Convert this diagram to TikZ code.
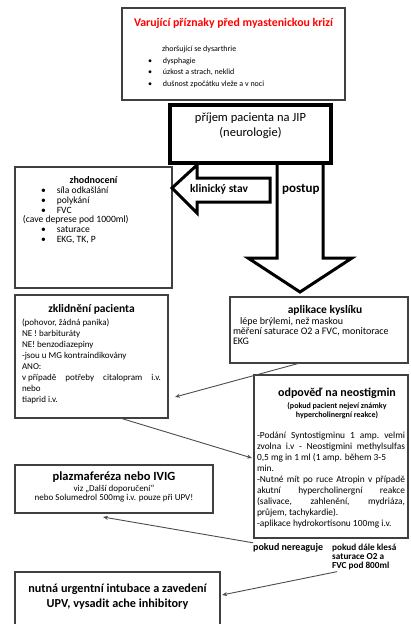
\documentclass[tikz,border=0pt]{standalone}
\usepackage{fontspec}
\setmainfont{Carlito}
\usetikzlibrary{arrows.meta}

\newcommand{\fs}[2]{\fontsize{#1}{#2}\selectfont}
\newcommand{\panel}[3]{\parbox[t][#2][t]{#1}{\raggedright#3}}
\newcommand{\ctr}[1]{\hbox to\hsize{\hss#1\hss}}
\newcommand{\just}[1]{\hbox to\hsize{#1}}
\newcommand{\itm}[1]{\hspace*{22pt}\textbullet\hspace{11pt}#1}

\tikzset{
  box/.style={draw=black!75, line width=1.2pt, anchor=north west, outer sep=0pt, inner xsep=4pt},
  heavy/.style={draw=black, line width=3pt, line join=miter},
  tag/.style={inner sep=0pt, anchor=base west, font=\bfseries},
  link/.style={draw=black!70, line width=0.9pt, -{Stealth[length=5pt,width=4pt]}},
}

\begin{document}
\begin{tikzpicture}[x=1pt,y=-1pt]
\clip (0,0) rectangle (410,624);

% boxes
\node[box, line width=1.6pt, inner ysep=10.5pt] (warn) at (122,8)
  {\panel{215pt}{71pt}{\fs{8}{11.7}%
   \ctr{\color{red}\bfseries\fs{11.8}{13}Varující příznaky před myastenickou krizí}
   \vspace{13pt}
   \hspace*{36pt}zhoršující se dysarthrie\\
   \itm{dysphagie}\\
   \itm{úzkost a strach, neklid}\\
   \itm{dušnost zpočátku vleže a v noci}}};
\node[box, draw=black, line width=4pt, inner ysep=8pt] (jip) at (170,105)
  {\panel{153pt}{42pt}{\centering\fs{12.5}{15}příjem pacienta na JIP\\ (neurologie)}};
\node[box, inner ysep=9.5pt] (zhod) at (15,167)
  {\panel{149pt}{102pt}{\fs{9.6}{9.7}%
   \ctr{\bfseries\fs{10}{11}zhodnocení}
   \vspace{0.5pt}
   \itm{síla odkašlání}\\
   \itm{polykání}\\
   \itm{FVC}\\
   \hspace*{4pt}(cave deprese pod 1000ml)\\
   \itm{saturace}\\
   \itm{EKG, TK, P}}};
\node[box, inner xsep=7pt, inner ysep=9.5pt] (zkl) at (15,295)
  {\panel{139pt}{104pt}{\fs{9}{11}%
   \ctr{\bfseries\fs{11.5}{12}zklidnění pacienta}
   \vspace{2pt}
   (pohovor, žádná panika)\\
   NE ! barbituráty\\
   NE! benzodiazepiny\\
   -jsou u MG kontraindikovány\\
   ANO:\\
   \just{v\ případě\hfill potřeby\hfill citalopram\hfill i.v.}
   nebo\\
   tiaprid i.v.}};
\node[box, inner xsep=3pt, inner ysep=8pt] (apl) at (230,297)
  {\panel{172pt}{50pt}{\fs{10}{10}%
   \ctr{\hspace*{12pt}\bfseries\fs{11.5}{12}aplikace kyslíku}
   \vspace{1pt}
   \hspace*{7pt}lépe brýlemi, než maskou\\
   měření saturace O2 a FVC, monitorace\\
   EKG}};
\node[box, inner xsep=3pt, inner ysep=13pt] (neo) at (254,375)
  {\panel{148pt}{137pt}{\fs{9.4}{11}%
   \ctr{\hspace*{12pt}\bfseries\fs{12}{13}odpověď na neostigmin}
   \vspace{3pt}
   {\centering\bfseries\fs{8}{9}\hspace*{12pt}(pokud pacient nejeví známky\\
   \hspace*{12pt}hypercholinergní reakce)\par}
   \vspace{10pt}
   \just{-Podání\hfill Syntostigminu\hfill 1\hfill amp.\hfill velmi}
   \just{zvolna\hfill i.v\hfill -\hfill Neostigmini\hfill methylsulfas}
   0,5 mg in 1 ml (1 amp. během 3-5\\
   min.\\
   \just{-Nutné\hfill mít\hfill po\hfill ruce\hfill Atropin\hfill v\hfill případě}
   \just{akutní\hfill hypercholinergní\hfill reakce}
   \just{(salivace,\hfill zahlenění,\hfill mydriáza,}
   průjem, tachykardie).\\
   -aplikace hydrokortisonu 100mg i.v.}};
\node[box, inner ysep=7pt] (plaz) at (15,465)
  {\panel{190pt}{34pt}{\fs{9}{9}%
   \ctr{\bfseries\fs{12.5}{13}plazmaferéza nebo IVIG}
   \vspace{1.5pt}
   \ctr{viz „Další doporučení“}
   \ctr{nebo Solumedrol 500mg i.v. pouze při UPV!}}};
\node[box, inner ysep=11.5pt] (nut) at (15,572)
  {\panel{197pt}{47pt}{\fs{12.2}{15}\bfseries
   \ctr{nutná urgentní intubace a zavedení}
   \ctr{UPV, vysadit ache inhibitory}}};

% block arrows
\draw[heavy] (197,165) -- (172,188) -- (197,213) -- (197,202) -- (270,202)
  -- (270,178) -- (197,178) -- cycle;
\draw[heavy] (277,163) -- (277,258) -- (248,258) -- (300,292) -- (352,258)
  -- (323,258) -- (323,163);
\node[tag, font=\bfseries\fs{11.5}{12}] (klin) at (190,192) {klinický stav};
\node[tag, font=\bfseries\fs{13}{14}] (post) at (282,192) {postup};

% conditions
\node[tag, font=\bfseries\fs{10}{11}] (nereag) at (253,550) {pokud nereaguje};
\node[tag, font=\bfseries\fs{9.2}{9}] (klesa) at (332,550)
  {\parbox[t]{78pt}{pokud dále klesá\\ saturace O2 a\\ FVC pod 800ml}};

% connectors
\draw[link] ([xshift=70pt]apl.south west) -- ([xshift=7pt,yshift=-40.5pt]zkl.east);
\draw[link] ([xshift=28.5pt]zkl.south) -- ([xshift=-2pt,yshift=-1.5pt]neo.west);
\draw[link] (nereag.north west) -- ([xshift=-11pt,yshift=-4pt]plaz.south);
\draw[link] ([xshift=5pt,yshift=-2pt]klesa.south west) -- ([xshift=2pt,yshift=12pt]nut.east);
\end{tikzpicture}
\end{document}
